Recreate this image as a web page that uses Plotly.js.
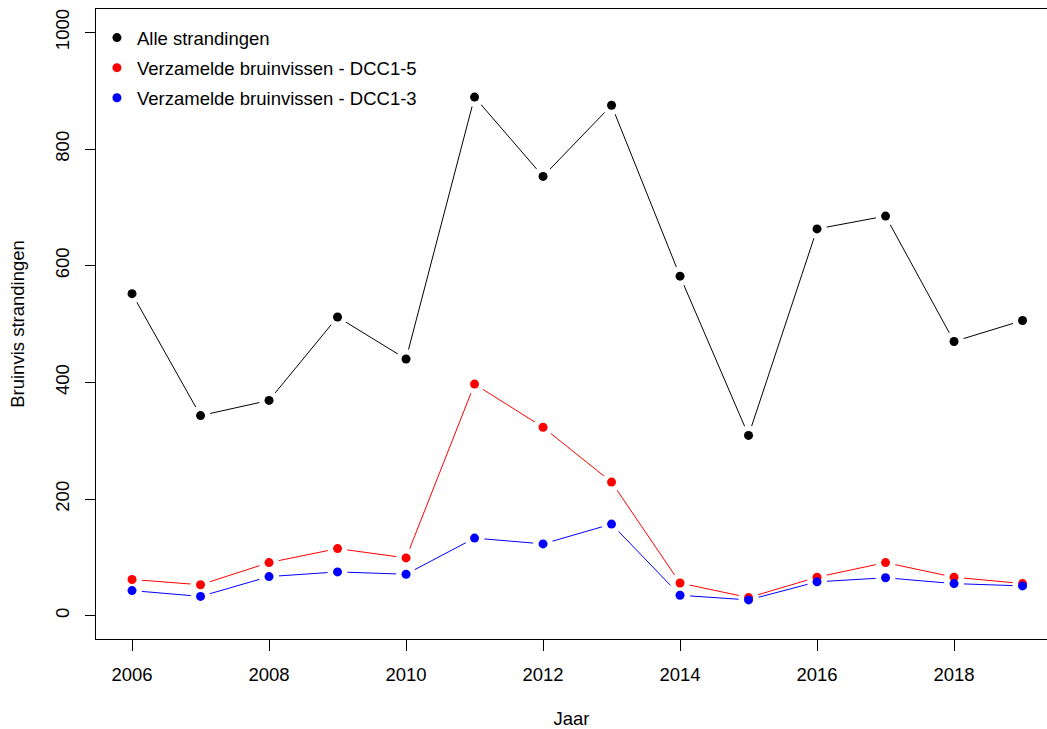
<!DOCTYPE html>
<html>
<head>
<meta charset="utf-8">
<script src="https://cdn.plot.ly/plotly-3.0.1.min.js"></script>
<style>
  html, body { margin: 0; padding: 0; background: #fff; }
  #chart { width: 1047px; height: 729px; }
</style>
</head>
<body>
<div id="chart"></div>
<script>
// Bruinvis (harbour porpoise) strandings per year
const years = [2006, 2007, 2008, 2009, 2010, 2011, 2012, 2013, 2014, 2015, 2016, 2017, 2018, 2019];
const alleStrandingen = [552, 343, 369, 512, 440, 889, 753, 875, 582, 309, 663, 685, 470, 506];
const verzameldDCC15 = [62, 53, 91, 115, 99, 397, 323, 229, 56, 31, 66, 91, 66, 55];
const verzameldDCC13 = [43, 33, 67, 75, 71, 133, 123, 157, 35, 27, 58, 65, 55, 51];

const seriesNames = [
  'Alle strandingen',
  'Verzamelde bruinvissen - DCC1-5',
  'Verzamelde bruinvissen - DCC1-3'
];
const seriesValues = [alleStrandingen, verzameldDCC15, verzameldDCC13];
const seriesColors = ['#000000', '#ff0000', '#0000ff'];

const xTicks = [2006, 2008, 2010, 2012, 2014, 2016, 2018];
const yTicks = [0, 200, 400, 600, 800, 1000];

const FONT = 'Liberation Sans, Arial, sans-serif';
const FS = 18.5;

const traces = [];

// connecting lines
seriesValues.forEach((vals, i) => {
  traces.push({
    x: years, y: vals, type: 'scatter', mode: 'lines',
    line: { color: seriesColors[i], width: 1 },
    showlegend: false, hoverinfo: 'skip'
  });
});

// white halo around each point, leaving a small gap between line and point
seriesValues.forEach((vals) => {
  traces.push({
    x: years, y: vals, type: 'scatter', mode: 'markers',
    marker: { color: '#ffffff', size: 20, line: { width: 0 } },
    showlegend: false, hoverinfo: 'skip'
  });
});

// filled points (also the legend entries)
seriesValues.forEach((vals, i) => {
  traces.push({
    x: years, y: vals, type: 'scatter', mode: 'markers',
    name: seriesNames[i],
    legendgroup: 'g' + i,
    marker: { color: seriesColors[i], size: 9, line: { width: 0 } },
    showlegend: true
  });
});

const layout = {
  width: 1047,
  height: 729,
  margin: { l: 96, r: 0, t: 9, b: 90, pad: 0 },
  paper_bgcolor: '#ffffff',
  plot_bgcolor: '#ffffff',
  font: { family: FONT, size: FS, color: '#000000' },
  showlegend: true,
  legend: {
    x: 0.001, y: 0.984, xanchor: 'left', yanchor: 'top',
    bgcolor: 'rgba(0,0,0,0)',
    borderwidth: 0,
    font: { family: FONT, size: FS, color: '#000000' },
    traceorder: 'grouped',
    tracegroupgap: 3,
    itemclick: false
  },
  xaxis: {
    range: [2005.474, 2019.357],
    tickmode: 'array',
    tickvals: xTicks,
    ticktext: xTicks.map(String),
    ticks: 'outside',
    ticklen: 11,
    tickwidth: 1,
    tickcolor: '#000000',
    showline: true,
    linecolor: '#000000',
    linewidth: 1,
    mirror: true,
    showgrid: false,
    zeroline: false,
    tickfont: { family: FONT, size: FS, color: '#000000' },
    ticklabelstandoff: 8,
    title: { text: 'Jaar', font: { family: FONT, size: FS, color: '#000000' }, standoff: 27 },
    automargin: false
  },
  yaxis: {
    range: [-40, 1040],
    tickmode: 'array',
    tickvals: yTicks,
    ticktext: yTicks.map(String),
    ticks: 'outside',
    ticklen: 10,
    tickwidth: 1,
    tickcolor: '#000000',
    tickangle: -90,
    showline: true,
    linecolor: '#000000',
    linewidth: 1,
    mirror: false,
    showgrid: false,
    zeroline: false,
    tickfont: { family: FONT, size: FS, color: '#000000' },
    ticklabelstandoff: 9,
    title: { text: 'Bruinvis strandingen', font: { family: FONT, size: FS, color: '#000000' }, standoff: 22 },
    automargin: false
  }
};

Plotly.newPlot('chart', traces, layout, { displayModeBar: false, staticPlot: true });
</script>
</body>
</html>
